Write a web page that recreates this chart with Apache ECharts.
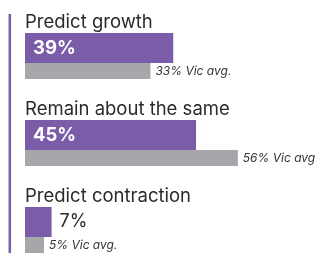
<!DOCTYPE html>
<html>
<head>
<meta charset="utf-8">
<script src="https://cdn.jsdelivr.net/npm/echarts@6/dist/echarts.min.js"></script>
<style>
  html, body { margin: 0; padding: 0; background: #fff; }
  #chart { width: 315px; height: 253px; }
</style>
</head>
<body>
<div id="chart"></div>
<script>
// group headings
var groups = ["Predict growth", "Remain about the same", "Predict contraction"];
// region values (purple) and Victorian average (grey)
var regionValues = [39, 45, 7];
var vicValues = [33, 56, 5];
var vicLabels = ["33% Vic avg.", "56% Vic avg", "5% Vic avg."];

var purple = "#7a5ca8";
var grey = "#a6a7aa";
var font = "Inter";

var grids = [], xAxes = [], yAxes = [], series = [], titles = [];
var gridTops = [33, 120, 207];

groups.forEach(function (g, i) {
    grids.push({ left: 25, width: 290, top: gridTops[i], height: 46 });
    xAxes.push({ type: "value", gridIndex: i, min: 0, max: 76.3, show: false });
    yAxes.push({ type: "category", gridIndex: i, data: [g], inverse: true, show: false });
    titles.push({
        text: g, left: 20, top: gridTops[i] - 25,
        textStyle: { fontFamily: font, fontSize: 18.5, fontWeight: "normal", color: "#2b2b2b" }
    });
    var big = regionValues[i] > 15;
    series.push({
        type: "bar", xAxisIndex: i, yAxisIndex: i,
        barWidth: 30, barGap: "0%", barCategoryGap: "0%",
        itemStyle: { color: purple },
        label: {
            show: true,
            position: big ? "insideLeft" : "right",
            distance: 8,
            formatter: "{c}%",
            fontFamily: font,
            fontSize: big ? 18.5 : 18,
            fontWeight: big ? "bold" : "normal",
            color: big ? "#fff" : "#2b2b2b"
        },
        silent: true,
        data: [regionValues[i]]
    });
    series.push({
        type: "bar", xAxisIndex: i, yAxisIndex: i,
        barWidth: 16, barGap: "0%", barCategoryGap: "0%",
        itemStyle: { color: grey },
        label: {
            show: true, position: "right", distance: 5,
            formatter: vicLabels[i],
            fontFamily: font, fontSize: 12, fontStyle: "italic",
            color: "#333"
        },
        silent: true,
        data: [vicValues[i]]
    });
});

var chart = echarts.init(document.getElementById("chart"));
chart.setOption({
    animation: false,
    title: titles,
    grid: grids,
    xAxis: xAxes,
    yAxis: yAxes,
    series: series,
    graphic: [{
        type: "line",
        shape: { x1: 9.8, y1: 14, x2: 9.8, y2: 253 },
        style: { stroke: purple, lineWidth: 2.5 }
    }]
});
</script>
</body>
</html>
